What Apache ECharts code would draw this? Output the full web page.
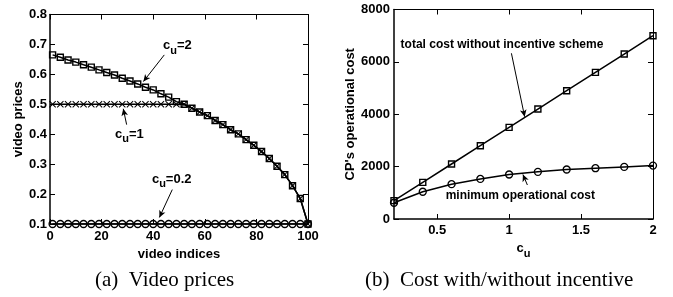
<!DOCTYPE html>
<html><head><meta charset="utf-8">
<script src="https://cdn.jsdelivr.net/npm/echarts@6/dist/echarts.min.js"></script>
<style>html,body{margin:0;padding:0;background:#fff}#c{width:673px;height:297px}</style>
</head><body><div id="c"></div>
<script>
// ---- data: (a) video prices ----
const videoIdx = [1,4,7,10,13,16,19,22,25,28,31,34,37,40,43,46,49,52,55,58,61,64,67,70,73,76,79,82,85,88,91,94,97,100];
const priceCu2 = [0.665,0.657,0.648,0.641,0.632,0.624,0.615,0.606,0.598,0.587,0.578,0.568,0.557,0.548,0.535,0.524,0.509,0.500,0.487,0.474,0.462,0.446,0.432,0.415,0.401,0.382,0.363,0.342,0.319,0.293,0.265,0.228,0.185,0.100];
const priceCu1 = [0.5,0.5,0.5,0.5,0.5,0.5,0.5,0.5,0.5,0.5,0.5,0.5,0.5,0.5,0.5,0.5,0.5,0.5,0.487,0.474,0.462,0.446,0.432,0.415,0.401,0.382,0.363,0.342,0.319,0.293,0.265,0.228,0.185,0.100];
const priceCu02 = [0.1,0.1,0.1,0.1,0.1,0.1,0.1,0.1,0.1,0.1,0.1,0.1,0.1,0.1,0.1,0.1,0.1,0.1,0.1,0.1,0.1,0.1,0.1,0.1,0.1,0.1,0.1,0.1,0.1,0.1,0.1,0.1,0.1,0.1];
const leftXTicks = [0,20,40,60,80,100];
const leftYTicks = [0.1,0.2,0.3,0.4,0.5,0.6,0.7,0.8];
// ---- data: (b) cost ----
const cuValues = [0.2,0.4,0.6,0.8,1.0,1.2,1.4,1.6,1.8,2.0];
const totalCost = [700,1400,2100,2800,3500,4200,4900,5600,6300,7000];
const minCost = [620,1040,1330,1530,1700,1800,1890,1940,1990,2040];
const rightXTicks = [0.5,1,1.5,2];
const rightYTicks = [0,2000,4000,6000,8000];

const pairs = (xs, ys) => xs.map((x, i) => [x, ys[i]]);
const SANS = 'Liberation Sans';
const BLK = '#000';
const crossPath = 'path://M0,1L1,0L5,4L9,0L10,1L6,5L10,9L9,10L5,6L1,10L0,9L4,5Z';

function axisBase(extra) {
  return Object.assign({
    type: 'value',
    axisLine: {show: true, onZero: false, lineStyle: {color: BLK, width: 1}},
    axisTick: {show: true, inside: true, length: 5, lineStyle: {color: BLK, width: 1}},
    axisLabel: {show: false},
    splitLine: {show: false}
  }, extra);
}
const lblStyle = {color: BLK, fontFamily: SANS, fontWeight: 'bold', fontSize: 13};

const chart = echarts.init(document.getElementById('c'), null, {renderer: 'canvas'});

const arrowLine = (a, b) => ({
  silent: true, symbol: ['none', 'arrow'], symbolSize: [5, 7],
  label: {show: false}, lineStyle: {color: BLK, width: 1, type: 'solid'},
  data: [[{coord: a}, {coord: b}]]
});

const option = {
  animation: false,
  backgroundColor: '#fff',
  grid: [
    {left: 50, right: 365, top: 14.5, bottom: 73},
    {left: 394, right: 20, top: 9.5, bottom: 78}
  ],
  xAxis: [
    axisBase({gridIndex: 0, position: 'bottom', min: 0, max: 100, interval: 20,
      axisLine: {show: true, onZero: false, lineStyle: {color: BLK, width: 1.5}},
      axisLabel: Object.assign({show: true, margin: 6}, lblStyle),
      name: 'video indices', nameLocation: 'middle', nameGap: 16,
      nameTextStyle: Object.assign({}, lblStyle)}),
    axisBase({gridIndex: 0, position: 'top', min: 0, max: 100, interval: 20}),
    axisBase({gridIndex: 1, position: 'bottom', min: 0.2, max: 2,
      axisLine: {show: true, onZero: false, lineStyle: {color: BLK, width: 1.5}},
      axisTick: {show: true, inside: true, length: 5, customValues: rightXTicks, lineStyle: {color: BLK, width: 1}},
      axisLabel: Object.assign({show: true, margin: 5, customValues: rightXTicks}, lblStyle),
      name: '{a|c}{b|u}', nameLocation: 'middle', nameGap: 13,
      nameTextStyle: {rich: {
        a: Object.assign({verticalAlign: 'top', padding: [0,0,0,0]}, lblStyle, {fontSize: 13}),
        b: Object.assign({verticalAlign: 'top', padding: [7,0,0,0]}, lblStyle, {fontSize: 11})
      }}}),
    axisBase({gridIndex: 1, position: 'top', min: 0.2, max: 2,
      axisTick: {show: true, inside: true, length: 5, customValues: rightXTicks, lineStyle: {color: BLK, width: 1}}})
  ],
  yAxis: [
    axisBase({gridIndex: 0, position: 'left', min: 0.1, max: 0.8, interval: 0.1,
      axisLine: {show: true, onZero: false, lineStyle: {color: BLK, width: 1.5}},
      axisLabel: Object.assign({show: true, margin: 3, formatter: v => v.toFixed(1)}, lblStyle),
      name: 'video prices', nameLocation: 'middle', nameGap: 25,
      nameTextStyle: Object.assign({}, lblStyle)}),
    axisBase({gridIndex: 0, position: 'right', min: 0.1, max: 0.8, interval: 0.1}),
    axisBase({gridIndex: 1, position: 'left', min: 0, max: 8000, interval: 2000,
      axisLine: {show: true, onZero: false, lineStyle: {color: BLK, width: 1.5}},
      axisLabel: Object.assign({show: true, margin: 4, formatter: v => String(v)}, lblStyle),
      name: "CP's operational cost", nameLocation: 'middle', nameGap: 31,
      nameTextStyle: Object.assign({}, lblStyle)}),
    axisBase({gridIndex: 1, position: 'right', min: 0, max: 8000, interval: 2000})
  ],
  series: [
    {type: 'line', xAxisIndex: 0, yAxisIndex: 0, data: pairs(videoIdx, priceCu2),
      symbol: 'rect', symbolSize: 6, showAllSymbol: true,
      lineStyle: {color: BLK, width: 1.5},
      itemStyle: {color: 'rgba(255,255,255,0)', borderColor: BLK, borderWidth: 1.4},
      markLine: arrowLine([44.3, 0.665], [36.2, 0.576])},
    {type: 'line', xAxisIndex: 0, yAxisIndex: 0, data: pairs(videoIdx, priceCu1),
      symbol: crossPath, symbolSize: 7, showAllSymbol: true,
      lineStyle: {color: BLK, width: 1.5},
      itemStyle: {color: BLK},
      markLine: arrowLine([29.7, 0.432], [28.4, 0.485])},
    {type: 'line', xAxisIndex: 0, yAxisIndex: 0, data: pairs(videoIdx, priceCu02),
      symbol: 'circle', symbolSize: 7, showAllSymbol: true,
      lineStyle: {color: BLK, width: 1.5},
      itemStyle: {color: 'rgba(255,255,255,0)', borderColor: BLK, borderWidth: 1.3},
      markLine: arrowLine([47.4, 0.215], [42.4, 0.122])},
    {type: 'line', xAxisIndex: 2, yAxisIndex: 2, data: pairs(cuValues, totalCost),
      symbol: 'rect', symbolSize: 6, showAllSymbol: true,
      lineStyle: {color: BLK, width: 1.5},
      itemStyle: {color: 'rgba(255,255,255,0)', borderColor: BLK, borderWidth: 1.4},
      markLine: arrowLine([1.016, 6328], [1.108, 3907])},
    {type: 'line', xAxisIndex: 2, yAxisIndex: 2, data: pairs(cuValues, minCost),
      symbol: 'circle', symbolSize: 7, showAllSymbol: true,
      lineStyle: {color: BLK, width: 1.5},
      itemStyle: {color: 'rgba(255,255,255,0)', borderColor: BLK, borderWidth: 1.3},
      markLine: arrowLine([1.127, 1298], [1.096, 1700])}
  ]
};
chart.setOption(option);

// annotations anchored in data space
const subRich = {
  a: Object.assign({verticalAlign: 'top'}, lblStyle, {fontSize: 13}),
  b: Object.assign({verticalAlign: 'top', padding: [6,0,0,0]}, lblStyle, {fontSize: 11})
};
const annotations = [
  {grid: 0, at: [43.8, 0.718], text: '{a|c}{b|u}{a|=2}', rich: true},
  {grid: 0, at: [25.2, 0.422], text: '{a|c}{b|u}{a|=1}', rich: true},
  {grid: 0, at: [39.5, 0.272], text: '{a|c}{b|u}{a|=0.2}', rich: true},
  {grid: 1, at: [0.246, 6645], text: 'total cost without incentive scheme'},
  {grid: 1, at: [0.559, 880], text: 'minimum operational cost'}
];
const graphics = annotations.map(an => {
  const p = chart.convertToPixel({gridIndex: an.grid}, an.at);
  if (an.rich) {
    return {type: 'text', x: p[0], y: p[1], silent: true,
      style: {text: an.text, rich: subRich, align: 'left', verticalAlign: 'top'}};
  }
  return {type: 'text', x: p[0], y: p[1], silent: true,
    style: {text: an.text, fill: BLK, font: 'bold 12px "Liberation Sans"', align: 'left', verticalAlign: 'middle'}};
});
graphics.push(
  {type: 'text', left: 95, top: 270, silent: true,
    style: {text: '(a)  Video prices', fill: BLK, font: '21px "Liberation Serif"'}},
  {type: 'text', left: 365, top: 270, silent: true,
    style: {text: '(b)  Cost with/without incentive', fill: BLK, font: '21px "Liberation Serif"'}}
);
chart.setOption({graphic: graphics});
</script>
</body></html>
